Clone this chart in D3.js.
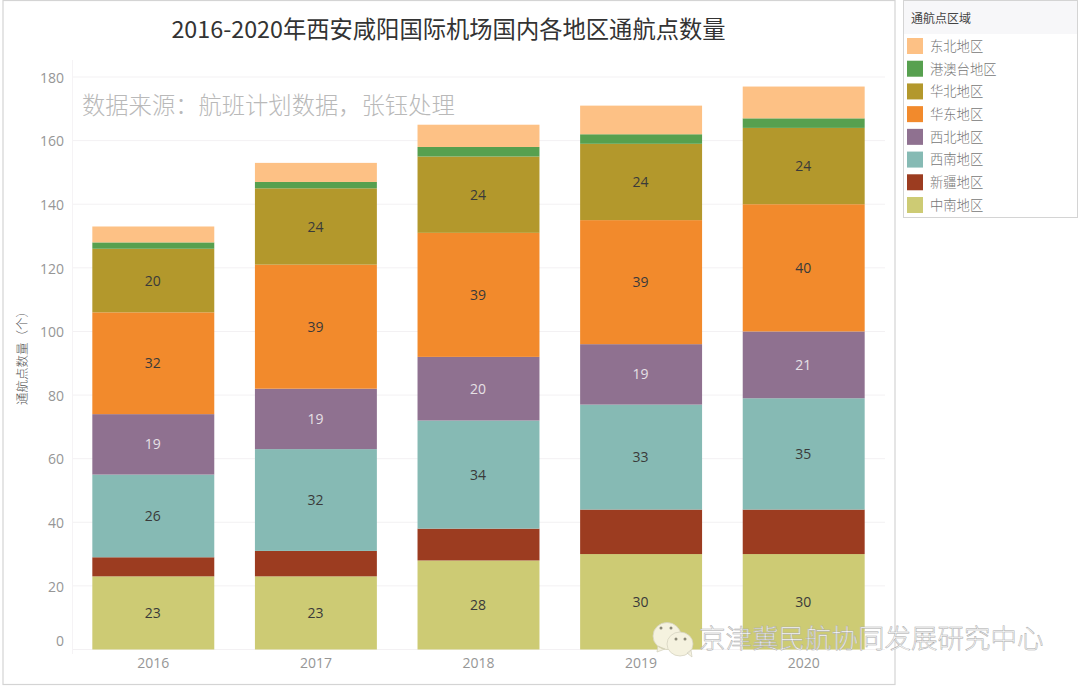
<!DOCTYPE html>
<html>
<head>
<meta charset="utf-8">
<script src="https://cdn.jsdelivr.net/npm/d3@7"></script>
<style>
  html, body { margin: 0; padding: 0; background: #fff; }
  text { font-family: "Noto Sans CJK SC", "Noto Sans", sans-serif; }
  .num { font-family: "Open Sans", sans-serif; }
</style>
</head>
<body>
<svg id="chart" width="1080" height="688"></svg>
<script>
const years = ["2016", "2017", "2018", "2019", "2020"];
// bottom of the stack first
const regions = ["中南地区", "新疆地区", "西南地区", "西北地区", "华东地区", "华北地区", "港澳台地区", "东北地区"];
const colors = ["#cdcb74", "#9c3c20", "#86bab4", "#8f7190", "#f28a2c", "#b3982c", "#57a04f", "#fdc185"];
const central = [23, 23, 28, 30, 30];
const xinjiang = [6, 8, 10, 14, 14];
const southwest = [26, 32, 34, 33, 35];
const northwest = [19, 19, 20, 19, 21];
const east = [32, 39, 39, 39, 40];
const north = [20, 24, 24, 24, 24];
const hkMacauTw = [2, 2, 3, 3, 3];
const northeast = [5, 6, 7, 9, 10];
const yTicks = [0, 20, 40, 60, 80, 100, 120, 140, 160, 180];

const seriesValues = [central, xinjiang, southwest, northwest, east, north, hkMacauTw, northeast];
const rows = years.map((y, i) => {
    let row = { year: y };
    regions.forEach((r, j) => row[r] = seriesValues[j][i]);
    return row;
});

const svg = d3.select("#chart");

// frames
svg.append("rect").attr("x", 3).attr("y", 0.5).attr("width", 892).attr("height", 684)
    .attr("fill", "#fff").attr("stroke", "#d4d4d4").attr("stroke-width", 1.2);

let x = d3.scaleBand().domain(years).range([72, 885]).paddingInner(0.25).paddingOuter(0.125);
let y = d3.scaleLinear().domain([0, 180]).range([649.5, 77]);

// gridlines first so the bars sit on top
svg.append("g").selectAll("line").data(yTicks).enter().append("line")
    .attr("x1", 72).attr("x2", 885)
    .attr("y1", d => y(d)).attr("y2", d => y(d))
    .attr("stroke", "#f3f1f3");
svg.append("line").attr("x1", 72.5).attr("x2", 72.5).attr("y1", 60).attr("y2", 654).attr("stroke", "#f5f3f5");

// y axis, the 0 label is pushed up like in the original
let yAxis = svg.append("g").attr("transform", "translate(72,0)")
    .call(d3.axisLeft(y).tickValues(yTicks).tickSize(0).tickPadding(8));
yAxis.select(".domain").remove();
yAxis.selectAll("text")
    .attr("class", "num")
    .attr("fill", "#969696")
    .style("font-size", "14px")
    .attr("dy", d => d === 0 ? "-0.3em" : "0.38em");

let xAxis = svg.append("g").attr("transform", "translate(0,649.5)")
    .call(d3.axisBottom(x).tickSize(0).tickPadding(9));
xAxis.select(".domain").remove();
xAxis.selectAll("text")
    .attr("class", "num")
    .attr("fill", "#969696")
    .style("font-size", "14px");

// stacked bars
let stacked = d3.stack().keys(regions)(rows);
let layers = svg.append("g").selectAll("g").data(stacked).enter().append("g")
    .attr("fill", (d, i) => colors[i]);
layers.selectAll("rect").data(d => d).enter().append("rect")
    .attr("x", d => x(d.data.year))
    .attr("width", x.bandwidth())
    .attr("y", d => y(d[1]))
    .attr("height", d => y(d[0]) - y(d[1]));

// only the larger segments carry a label
layers.each(function (layer) {
    let isPurple = layer.key === "西北地区";
    d3.select(this).selectAll("text")
        .data(layer.filter(d => d[1] - d[0] >= 19))
        .enter().append("text")
        .attr("class", "num")
        .attr("x", d => x(d.data.year) + x.bandwidth() / 2 - 0.5)
        .attr("y", d => y((d[0] + d[1]) / 2))
        .attr("dy", "0.36em")
        .attr("text-anchor", "middle")
        .attr("fill", isPurple ? "#e6e0e6" : "#3a3a3a")
        .style("font-size", "14px")
        .text(d => d[1] - d[0]);
});

// titles
svg.append("text").attr("x", 448.5).attr("y", 38).attr("text-anchor", "middle")
    .attr("fill", "#333").style("font-size", "23.3px").style("font-weight", 400)
    .text("2016-2020年西安咸阳国际机场国内各地区通航点数量");
svg.append("text").attr("x", 82).attr("y", 114)
    .attr("fill", "#b9b9b9").style("font-size", "23.3px").style("font-weight", 300)
    .text("数据来源：航班计划数据，张钰处理");
svg.append("text").attr("transform", "translate(27,355) rotate(-90)").attr("text-anchor", "middle")
    .attr("fill", "#555").style("font-size", "12.5px").style("font-weight", 300)
    .text("通航点数量（个）");

// legend
let legendRegions = regions.slice().reverse();
let legendColors = colors.slice().reverse();
svg.append("rect").attr("x", 903.5).attr("y", 0.5).attr("width", 174).attr("height", 217)
    .attr("fill", "#fff").attr("stroke", "#d4d4d4");
svg.append("rect").attr("x", 904).attr("y", 1).attr("width", 173).attr("height", 33).attr("fill", "#f7f7f9");
svg.append("text").attr("x", 911).attr("y", 23).attr("fill", "#444").style("font-size", "12px").style("font-weight", 400)
    .text("通航点区域");
let legendY = d3.scalePoint().domain(legendRegions).range([46, 205]);
let legendRows = svg.append("g").selectAll("g").data(legendRegions).enter().append("g")
    .attr("transform", d => `translate(907,${legendY(d)})`);
legendRows.append("rect").attr("y", -8).attr("width", 16).attr("height", 16)
    .attr("fill", (d, i) => legendColors[i]);
legendRows.append("text").attr("x", 23).attr("dy", "0.36em")
    .attr("fill", "#777").style("font-size", "13.3px").style("font-weight", 300)
    .text(d => d);

// wechat watermark
let mark = svg.append("g").attr("transform", "translate(652,620)");
let bubble = (cx, cy, rx, ry, tail) => mark.append("path")
    .attr("d", `M${cx - rx},${cy}a${rx},${ry} 0 1,1 ${2 * rx},0a${rx},${ry} 0 1,1 ${-2 * rx},0z${tail}`)
    .attr("fill", "#f5f2df").attr("stroke", "#d6d3c0").attr("stroke-width", 0.8);
bubble(15, 16, 14, 13.5, "M6,26l-1,6l8,-3z");
bubble(28, 24, 13, 12, "M35,33l5,4l-1,-7z");
[[9, 8], [19, 8], [24, 19], [33, 19]].forEach(p => mark.append("circle")
    .attr("cx", p[0]).attr("cy", p[1]).attr("r", 1.5).attr("fill", "#8c8a78"));

svg.append("text").attr("x", 699).attr("y", 648)
    .attr("fill", "#fff").attr("stroke", "#a8a8a8").attr("stroke-width", 0.5)
    .style("font-size", "26.5px").style("font-weight", 300)
    .text("京津冀民航协同发展研究中心");
</script>
</body>
</html>
